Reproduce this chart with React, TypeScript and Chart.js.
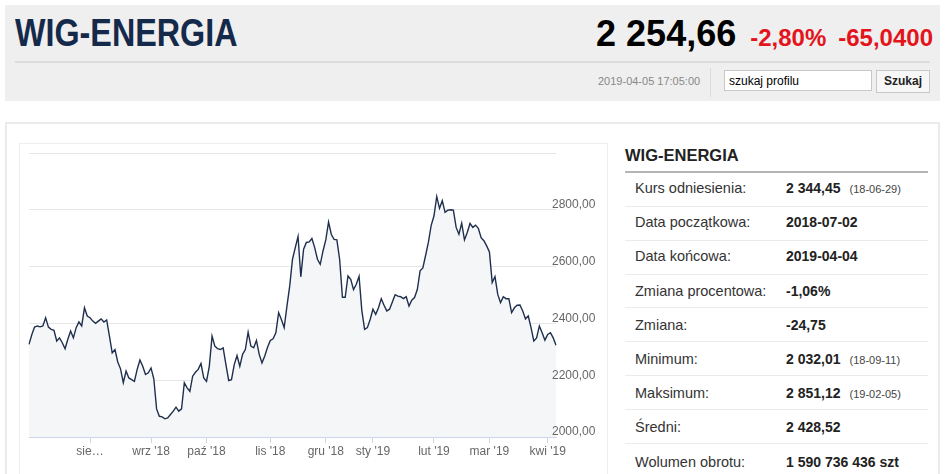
import React, { useEffect, useRef } from "react";
import { Chart, registerables } from "chart.js";

Chart.register(...registerables);

// ---- data ----
const firstDay = "2018-07-02";
const lastDay = "2019-04-04";
const holidays = ["2018-08-15", "2018-11-01", "2018-11-12", "2018-12-24", "2018-12-25", "2018-12-26", "2018-12-31", "2019-01-01"];

const closes = [
  2326, 2360, 2387, 2391, 2388, 2391, 2420, 2387, 2379, 2376,
  2338, 2349, 2332, 2311, 2344, 2373, 2349, 2385, 2405, 2391,
  2455, 2426, 2420, 2408, 2400, 2408, 2416, 2405, 2412, 2355,
  2296, 2308, 2264, 2240, 2191, 2232, 2208, 2202, 2196, 2238,
  2271, 2249, 2220, 2226, 2243, 2205, 2099, 2073, 2071, 2064,
  2067, 2079, 2091, 2105, 2091, 2099, 2191, 2173, 2161, 2214,
  2228, 2238, 2259, 2208, 2196, 2249, 2355, 2320, 2311, 2308,
  2314, 2255, 2199, 2202, 2255, 2287, 2249, 2291, 2308, 2369,
  2320, 2314, 2340, 2291, 2261, 2285, 2316, 2340, 2346, 2367,
  2438, 2414, 2385, 2461, 2532, 2626, 2667, 2706, 2564, 2661,
  2685, 2687, 2699, 2667, 2626, 2608, 2655, 2694, 2757, 2713,
  2696, 2694, 2625, 2492, 2492, 2567, 2555, 2519, 2538, 2566,
  2445, 2379, 2385, 2414, 2450, 2432, 2455, 2487, 2464, 2444,
  2450, 2475, 2501, 2496, 2494, 2487, 2494, 2461, 2482, 2491,
  2519, 2585, 2595, 2640, 2686, 2745, 2778, 2847, 2805, 2832,
  2791, 2799, 2800, 2799, 2738, 2714, 2753, 2694, 2720, 2752,
  2738, 2746, 2735, 2702, 2691, 2673, 2652, 2544, 2565, 2502,
  2473, 2494, 2487, 2487, 2438, 2455, 2464, 2465, 2444, 2416,
  2426, 2385, 2338, 2349, 2391, 2367, 2341, 2361, 2367, 2349, 2323,
];

const monthTickIndex = [22, 44, 64, 87, 107, 124, 146, 166, 187];
const monthTickLabels = ["sie…", "wrz '18", "paź '18", "lis '18", "gru '18", "sty '19", "lut '19", "mar '19", "kwi '19"];

const yMin = 2000;
const yMax = 3000;
const yStep = 200;
const yLabelValues = [2000, 2200, 2400, 2600, 2800];

const tableLabels = ["Kurs odniesienia:", "Data początkowa:", "Data końcowa:", "Zmiana procentowa:", "Zmiana:", "Minimum:", "Maksimum:", "Średni:", "Wolumen obrotu:"];
const tableValues = ["2 344,45", "2018-07-02", "2019-04-04", "-1,06%", "-24,75", "2 032,01", "2 851,12", "2 428,52", "1 590 736 436 szt"];
const tableNotes = ["(18-06-29)", "", "", "", "", "(18-09-11)", "(19-02-05)", "", ""];

function tradingDays(): string[] {
  const out: string[] = [];
  const d = new Date(firstDay + "T12:00:00Z");
  const end = new Date(lastDay + "T12:00:00Z");
  while (d <= end) {
    const iso = d.toISOString().slice(0, 10);
    const wd = d.getUTCDay();
    if (wd !== 0 && wd !== 6 && holidays.indexOf(iso) < 0) out.push(iso);
    d.setUTCDate(d.getUTCDate() + 1);
  }
  return out;
}

function fmtPl(v: number): string {
  return v.toFixed(2).replace(".", ",");
}

const axisFontFamily = "'Liberation Sans', Arial, sans-serif";
const axisFont = { family: axisFontFamily, size: 12 };

// y labels drawn Highcharts-style: slightly above grid line, starting a few px inside the plot edge
const yLabelPlugin = {
  id: "yLabelPlugin",
  afterDraw(chart: any) {
    const ctx = chart.ctx;
    const y = chart.scales.y;
    const area = chart.chartArea;
    ctx.save();
    ctx.font = `12px ${axisFontFamily}`;
    ctx.fillStyle = "#666666";
    ctx.textAlign = "left";
    ctx.textBaseline = "middle";
    yLabelValues.forEach((v) => {
      ctx.fillText(fmtPl(v), area.right - 4, y.getPixelForValue(v) - 5);
    });
    ctx.restore();
  },
};

function PriceChart() {
  const ref = useRef<HTMLCanvasElement | null>(null);
  useEffect(() => {
    if (!ref.current) return;
    const labels = tradingDays().slice(0, closes.length);
    while (labels.length < closes.length) labels.push("");
    const tickMap: Record<number, string> = {};
    monthTickIndex.forEach((ix, k) => (tickMap[ix] = monthTickLabels[k]));
    const chart = new Chart(ref.current, {
      type: "line",
      data: {
        labels,
        datasets: [
          {
            data: closes,
            borderColor: "#1f2f4d",
            borderWidth: 1.4,
            backgroundColor: "#f5f6f8",
            fill: "start",
            pointRadius: 0,
            tension: 0,
          },
        ],
      },
      options: {
        animation: false,
        responsive: false,
        maintainAspectRatio: false,
        layout: { padding: { left: 10, top: 10, right: 0, bottom: 0 } },
        plugins: { legend: { display: false }, tooltip: { enabled: false } },
        scales: {
          x: {
            type: "category",
            offset: false,
            grid: { display: true, drawOnChartArea: false, drawTicks: true, tickLength: 6, color: "#ccd6eb" },
            border: { display: true, color: "#ccd6eb" },
            ticks: {
              autoSkip: false,
              maxRotation: 0,
              minRotation: 0,
              padding: 1,
              color: "#666666",
              font: axisFont,
              callback: (v: any) => tickMap[v as number] ?? "",
            },
            afterBuildTicks: (axis: any) => {
              axis.ticks = monthTickIndex.map((v) => ({ value: v }));
            },
            afterFit: (axis: any) => {
              axis.height = 37;
            },
          },
          y: {
            position: "right",
            min: yMin,
            max: yMax,
            grid: { color: "#e6e6e6", drawTicks: false },
            border: { display: false },
            ticks: { stepSize: yStep, display: false },
            afterFit: (axis: any) => {
              axis.width = 53;
            },
          },
        },
      },
      plugins: [yLabelPlugin],
    } as any);
    return () => chart.destroy();
  }, []);
  return (
    <canvas
      ref={ref}
      width={590}
      height={331}
      style={{ position: "absolute", left: 19, top: 143, width: 590, height: 331 }}
    />
  );
}

const A = (o: React.CSSProperties): React.CSSProperties => ({ position: "absolute", whiteSpace: "nowrap", ...o });

export default function App() {
  const ar = "'Liberation Sans', Arial, sans-serif";
  return (
    <div style={{ position: "absolute", left: 0, top: 0, width: 945, height: 474, overflow: "hidden", background: "#fff" }}>
      {/* header */}
      <div style={A({ left: 5, top: 5, width: 935, height: 96, background: "#efefef" })} />
      <div
        style={A({
          left: 15,
          top: 14,
          fontFamily: ar,
          fontWeight: 700,
          fontSize: 38,
          lineHeight: "38px",
          color: "#15294a",
          transform: "scaleX(0.85)",
          transformOrigin: "left top",
        })}
      >
        WIG-ENERGIA
      </div>
      <div style={A({ right: 945 - 933, top: 15, display: "flex", alignItems: "baseline", fontFamily: ar, fontWeight: 700 })}>
        <span style={{ fontSize: 36, lineHeight: "38px", color: "#000", marginRight: 14 }}>2 254,66</span>
        <span style={{ fontSize: 24, color: "#e3141b", marginRight: 12 }}>-2,80%</span>
        <span style={{ fontSize: 24, color: "#e3141b" }}>-65,0400</span>
      </div>
      <div style={A({ left: 15, top: 61, width: 915, height: 2, background: "#dcdcdc" })} />
      <div style={A({ left: 598, top: 74, fontFamily: ar, fontSize: 11, color: "#888", lineHeight: "14px" })}>2019-04-05 17:05:00</div>
      <div style={A({ left: 710, top: 68, width: 1, height: 29, background: "#dcdcdc" })} />
      <div
        style={A({
          left: 724,
          top: 70,
          width: 148,
          height: 21,
          background: "#fff",
          border: "1px solid #c8c8c8",
          fontFamily: ar,
          fontSize: 12,
          lineHeight: "21px",
          paddingLeft: 4,
          boxSizing: "border-box",
          color: "#000",
        })}
      >
        szukaj profilu
      </div>
      <div
        style={A({
          left: 876,
          top: 70,
          width: 54,
          height: 23,
          background: "#f7f7f7",
          border: "1px solid #c8c8c8",
          boxSizing: "border-box",
          fontFamily: ar,
          fontSize: 12,
          fontWeight: 700,
          lineHeight: "21px",
          textAlign: "center",
          color: "#222",
        })}
      >
        Szukaj
      </div>

      {/* main panel */}
      <div style={A({ left: 5, top: 122, width: 935, height: 400, border: "2px solid #ebebeb", boxSizing: "border-box" })} />
      <div style={A({ left: 19, top: 143, width: 589, height: 400, border: "1px solid #eeeeee", boxSizing: "border-box" })} />
      <PriceChart />

      {/* table */}
      <div style={A({ left: 625, top: 143, fontFamily: ar, fontWeight: 700, fontSize: 16.5, lineHeight: "24px", color: "#222" })}>WIG-ENERGIA</div>
      <div style={A({ left: 625, top: 171, width: 303, height: 2, background: "#b5b5b5" })} />
      {tableLabels.map((lab, i) => {
        const top = 173 + i * 33.85;
        const ty = 173 + i * 34.2 + 2;
        return (
          <React.Fragment key={lab}>
            <div style={A({ left: 635, top: ty, fontFamily: ar, fontSize: 14.5, lineHeight: "26px", color: "#333" })}>{lab}</div>
            <div style={A({ left: 786, top: ty, fontFamily: ar, fontSize: 14, fontWeight: 700, lineHeight: "26px", color: "#222" })}>
              {tableValues[i]}
              {tableNotes[i] ? (
                <span style={{ fontSize: 11, fontWeight: 400, color: "#444", marginLeft: 9 }}>{tableNotes[i]}</span>
              ) : null}
            </div>
            {i < tableLabels.length - 1 ? (
              <div style={A({ left: 625, top: top + 33.85 - 1, width: 303, height: 1, background: "#ebebeb" })} />
            ) : null}
          </React.Fragment>
        );
      })}
    </div>
  );
}
